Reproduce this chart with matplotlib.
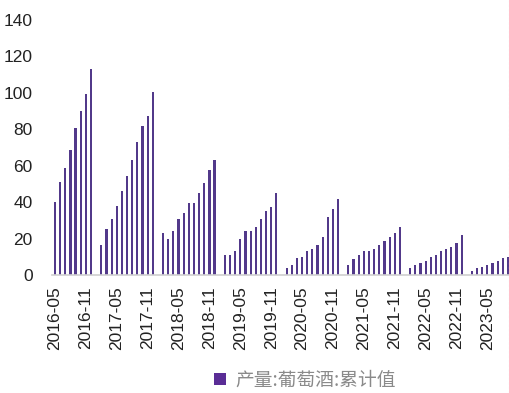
import matplotlib
matplotlib.use("Agg")
import matplotlib.pyplot as plt
from matplotlib.patches import Patch
from matplotlib.lines import Line2D
import numpy as np

# Monthly cumulative wine production (Feb-Dec each year; January not published)
years = [2016, 2017, 2018, 2019, 2020, 2021, 2022, 2023]
first_month = {2016: 5, 2023: 2}
values = {
    2016: [40.3, 51.3, 59.0, 68.7, 80.6, 90.3, 99.3, 113.2],
    2017: [16.5, 25.0, 30.6, 38.0, 46.0, 54.6, 63.2, 72.9, 81.9, 87.2, 100.4],
    2018: [22.9, 19.8, 24.2, 30.6, 33.9, 39.4, 39.4, 44.9, 50.4, 57.7, 63.2],
    2019: [11.0, 11.0, 13.4, 19.8, 24.2, 24.2, 26.6, 30.8, 35.2, 37.2, 44.9],
    2020: [3.7, 5.5, 9.2, 10.1, 13.4, 14.3, 16.5, 20.7, 31.7, 36.1, 41.6],
    2021: [5.5, 8.8, 11.0, 13.4, 13.4, 14.3, 16.5, 18.9, 20.7, 22.9, 26.2],
    2022: [3.7, 5.5, 6.8, 7.9, 10.1, 11.0, 13.4, 14.3, 15.6, 17.8, 22.0],
    2023: [2.4, 3.7, 4.6, 5.5, 6.8, 7.9, 9.2, 10.1],
}
series_name = "产量:葡萄酒:累计值"
y_ticks = [0, 20, 40, 60, 80, 100, 120, 140]

# build month index (0 = 2016-05)
xs, ys = [], []
for y in years:
    m0 = first_month.get(y, 2)
    for k, v in enumerate(values[y]):
        m = m0 + k
        idx = (y - 2016) * 12 + (m - 5)
        xs.append(idx)
        ys.append(v)

tick_idx = list(range(0, 85, 6))
tick_labels = []
for i in tick_idx:
    tot = 2016 * 12 + 4 + i
    tick_labels.append(f"{tot // 12}-{tot % 12 + 1:02d}")

color = "#52398a"

fig = plt.figure(figsize=(5.10, 3.93), dpi=100)
ax = fig.add_axes([52 / 510, 118 / 393, 1 - 52 / 510, (275 - 20) / 393])
ax.bar(xs, ys, width=0.42, color=color, zorder=2)

ax.set_xlim(-0.58, 88.39)
ax.set_ylim(0, 140)
ax.set_yticks(y_ticks)
ax.set_yticklabels([str(t) for t in y_ticks], fontsize=12.5,
                   family=["Liberation Sans", "DejaVu Sans"], color="#222222")
ax.set_xticks(tick_idx)
ax.set_xticklabels(tick_labels, rotation=90, fontsize=12.5,
                   family=["Liberation Sans", "DejaVu Sans"], color="#222222")
ax.tick_params(axis="both", length=0)
ax.tick_params(axis="y", pad=14)
ax.tick_params(axis="x", pad=8)
for s in ["left", "right", "top"]:
    ax.spines[s].set_visible(False)
ax.spines["bottom"].set_color("#d0d0d0")
ax.spines["bottom"].set_linewidth(1.2)

handle = Patch(facecolor="#5a2d96", edgecolor="none")
leg = fig.legend([handle], [series_name], loc="center",
                 bbox_to_anchor=(305 / 510, 1 - 380 / 393), frameon=False,
                 handlelength=0.6, handleheight=0.6, handletextpad=0.5,
                 prop={"family": ["Noto Sans CJK SC", "DejaVu Sans"], "size": 13.5})
for t in leg.get_texts():
    t.set_color("#8a8a8a")

fig.add_artist(Line2D([509.5 / 510, 509.5 / 510], [0, 1], transform=fig.transFigure,
                      color="#e0e0e0", linewidth=0.8, linestyle=(0, (2, 2))))

fig.savefig("out.png", dpi=100)
